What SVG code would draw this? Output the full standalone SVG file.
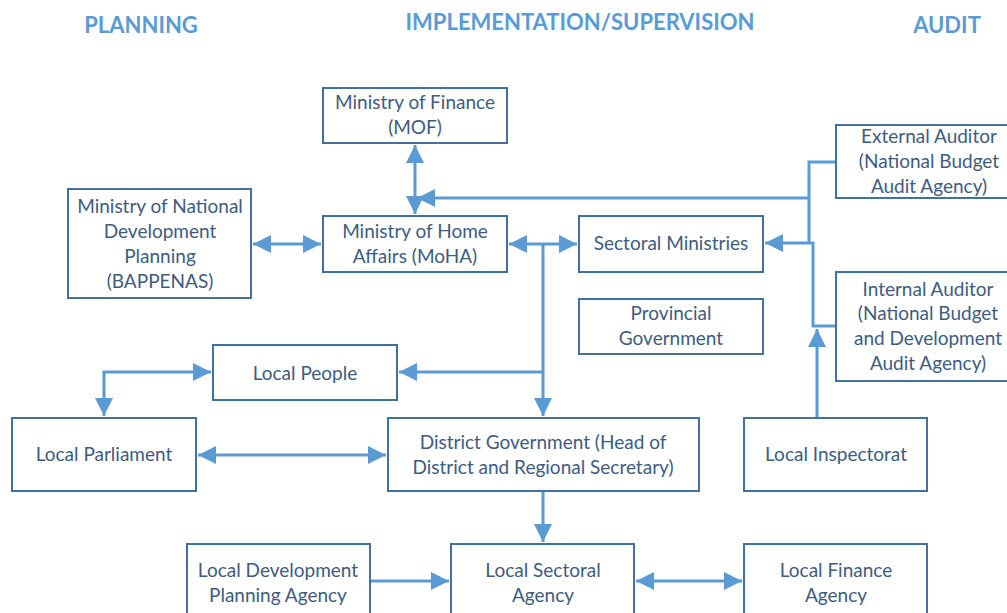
<svg xmlns="http://www.w3.org/2000/svg" width="1007" height="613" viewBox="0 0 1007 613">
<style>
.box{fill:#fff;stroke:#41719C;stroke-width:2}
.t{font-family:Lato,"Liberation Sans",sans-serif;font-size:19px;fill:#3E5C7E;text-anchor:middle}
.h{font-family:Lato,"Liberation Sans",sans-serif;font-size:22px;font-weight:bold;fill:#5B9BD5;text-anchor:middle}
.c{fill:none;stroke:#5B9BD5;stroke-width:3}
</style>
<defs>
<marker id="a" markerUnits="userSpaceOnUse" markerWidth="20" markerHeight="18" refX="18" refY="9" orient="auto-start-reverse">
<path d="M0,0 L18,9 L0,18 Z" fill="#5B9BD5"/>
</marker>
</defs>
<rect width="1007" height="613" fill="#fff"/>
<g id="headings">
<text class="h" x="141" y="33">PLANNING</text>
<text class="h" x="580" y="30">IMPLEMENTATION/SUPERVISION</text>
<text class="h" x="947" y="33">AUDIT</text>
</g>
<g id="connectors">
<path class="c" d="M415,145 V214" marker-start="url(#a)" marker-end="url(#a)"/>
<path class="c" d="M836,162 H809 V243"/>
<path class="c" d="M809,198 H417" marker-end="url(#a)"/>
<path class="c" d="M836,326 H813 V243 H765" marker-end="url(#a)"/>
<path class="c" d="M817,418 V329" marker-end="url(#a)"/>
<path class="c" d="M253,244 H321" marker-start="url(#a)" marker-end="url(#a)"/>
<path class="c" d="M509,244 H577" marker-start="url(#a)" marker-end="url(#a)"/>
<path class="c" d="M543,244 V416" marker-end="url(#a)"/>
<path class="c" d="M543,372 H399" marker-end="url(#a)"/>
<path class="c" d="M211,372 H104 V416" marker-start="url(#a)" marker-end="url(#a)"/>
<path class="c" d="M198,455 H386" marker-start="url(#a)" marker-end="url(#a)"/>
<path class="c" d="M543,491 V542" marker-end="url(#a)"/>
<path class="c" d="M370,581 H449" marker-end="url(#a)"/>
<path class="c" d="M636,581 H742" marker-start="url(#a)" marker-end="url(#a)"/>
</g>
<g id="mof"><rect class="box" x="323" y="88" width="184" height="55"/><text class="t" x="415" y="109">Ministry of Finance</text><text class="t" x="415" y="134">(MOF)</text></g>
<g id="moha"><rect class="box" x="323" y="216" width="184" height="56"/><text class="t" x="415" y="238">Ministry of Home</text><text class="t" x="415" y="263">Affairs (MoHA)</text></g>
<g id="sectoral"><rect class="box" x="579" y="216" width="184" height="56"/><text class="t" x="671" y="250">Sectoral Ministries</text></g>
<g id="external"><rect class="box" x="836" y="125" width="180" height="73"/><text class="t" x="929" y="143">External Auditor</text><text class="t" x="929" y="168">(National Budget</text><text class="t" x="929" y="193">Audit Agency)</text></g>
<g id="internal"><rect class="box" x="836" y="272" width="180" height="109"/><text class="t" x="928" y="296">Internal Auditor</text><text class="t" x="928" y="320">(National Budget</text><text class="t" x="928" y="345">and Development</text><text class="t" x="928" y="370">Audit Agency)</text></g>
<g id="provincial"><rect class="box" x="579" y="299" width="184" height="55"/><text class="t" x="671" y="320">Provincial</text><text class="t" x="671" y="345">Government</text></g>
<g id="bappenas"><rect class="box" x="68" y="189" width="183" height="109"/><text class="t" x="160" y="213">Ministry of National</text><text class="t" x="160" y="238">Development</text><text class="t" x="160" y="263">Planning</text><text class="t" x="160" y="288">(BAPPENAS)</text></g>
<g id="localpeople"><rect class="box" x="213" y="345" width="184" height="55"/><text class="t" x="305" y="380">Local People</text></g>
<g id="localparliament"><rect class="box" x="12" y="418" width="184" height="73"/><text class="t" x="104" y="461">Local Parliament</text></g>
<g id="district"><rect class="box" x="388" y="418" width="311" height="73"/><text class="t" x="543" y="449">District Government (Head of</text><text class="t" x="543" y="474">District and Regional Secretary)</text></g>
<g id="inspectorat"><rect class="box" x="744" y="418" width="183" height="73"/><text class="t" x="836" y="461">Local Inspectorat</text></g>
<g id="ldpa"><rect class="box" x="187" y="544" width="183" height="80"/><text class="t" x="278" y="577">Local Development</text><text class="t" x="278" y="602">Planning Agency</text></g>
<g id="lsa"><rect class="box" x="451" y="544" width="183" height="80"/><text class="t" x="543" y="577">Local Sectoral</text><text class="t" x="543" y="602">Agency</text></g>
<g id="lfa"><rect class="box" x="744" y="544" width="183" height="80"/><text class="t" x="836" y="577">Local Finance</text><text class="t" x="836" y="602">Agency</text></g>
</svg>
